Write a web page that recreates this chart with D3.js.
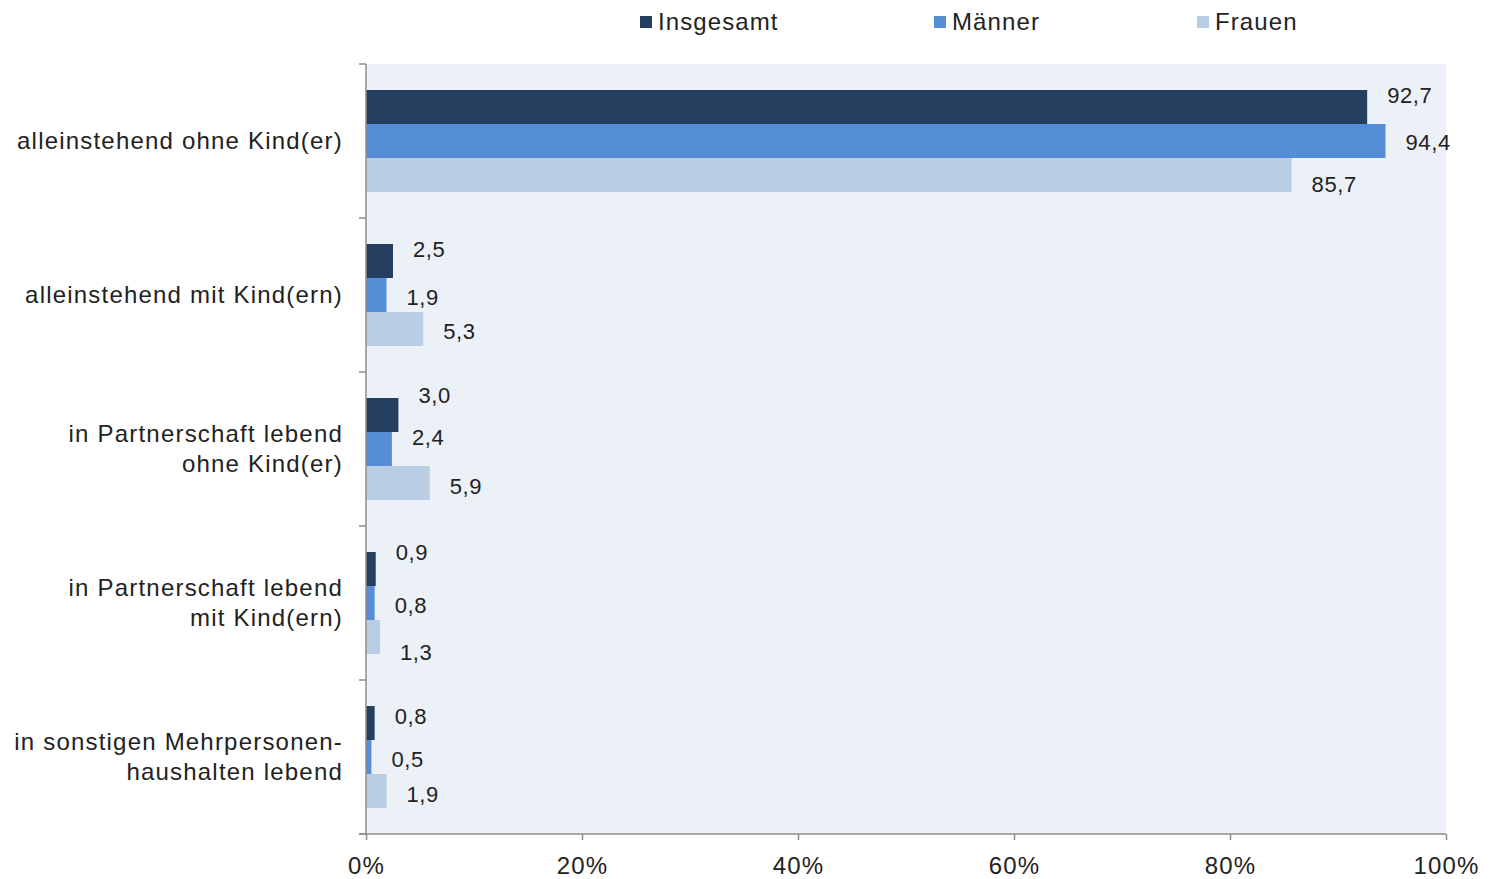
<!DOCTYPE html>
<html><head><meta charset="utf-8">
<script src="https://cdn.jsdelivr.net/npm/d3@7"></script>
<style>body{margin:0;background:#fff;} svg{display:block;font-family:"Liberation Sans",Arial,sans-serif;}</style>
</head><body><svg id="c" width="1489" height="879"></svg>
<script>
const categories = [
  ["alleinstehend ohne Kind(er)"],
  ["alleinstehend mit Kind(ern)"],
  ["in Partnerschaft lebend", "ohne Kind(er)"],
  ["in Partnerschaft lebend", "mit Kind(ern)"],
  ["in sonstigen Mehrpersonen-", "haushalten lebend"]
];
const seriesNames = ["Insgesamt", "Männer", "Frauen"];
const insgesamt = [92.7, 2.5, 3.0, 0.9, 0.8];
const maenner   = [94.4, 1.9, 2.4, 0.8, 0.5];
const frauen    = [85.7, 5.3, 5.9, 1.3, 1.9];
const xTicks = [0, 20, 40, 60, 80, 100];
const colors = ["#243F60", "#558ED5", "#B9CDE5"];
// label vertical nudges (layout only), per category, per series
const labelDy = [[-12, 1, 9], [-12, 2, 2], [-20, -12, 3], [-17, 2, 15], [-7, 2, 3]];

const series = [insgesamt, maenner, frauen];
const svg = d3.select("#c");
const m = {left: 366, right: 1446, top: 64, bottom: 834};

const x = d3.scaleLinear().domain([0, 100]).range([m.left, m.right]);
const y = d3.scaleBand().domain(d3.range(categories.length)).range([m.top, m.bottom]).paddingInner(0).paddingOuter(0);
const inner = d3.scaleBand().domain(d3.range(3)).range([0, y.bandwidth()]).paddingInner(0).paddingOuter(0.765);

svg.append("rect").attr("x", m.left).attr("y", m.top).attr("width", m.right - m.left).attr("height", m.bottom - m.top).attr("fill", "#ECF0F7");

categories.forEach((c, i) => {
  series.forEach((s, j) => {
    const y0 = y(i) + inner(j);
    svg.append("rect").attr("x", x(0)).attr("y", y0).attr("width", x(s[i]) - x(0)).attr("height", inner.bandwidth()).attr("fill", colors[j]);
    svg.append("text").attr("x", x(s[i]) + 20).attr("y", y0 + inner.bandwidth() / 2 + labelDy[i][j])
      .attr("dy", "0.35em").attr("font-size", 22).attr("letter-spacing", 0.6).attr("fill", "#222").text(d3.format(".1f")(s[i]).replace(".", ","));
  });
});

// y axis
const yAxis = svg.append("g");
yAxis.append("line").attr("x1", m.left).attr("x2", m.left).attr("y1", m.top).attr("y2", m.bottom).attr("stroke", "#8c8c8c").attr("stroke-width", 1.5);
d3.range(categories.length + 1).forEach(k => {
  const yy = k < categories.length ? y(k) : m.bottom;
  yAxis.append("line").attr("x1", m.left - 7).attr("x2", m.left).attr("y1", yy).attr("y2", yy).attr("stroke", "#8c8c8c").attr("stroke-width", 1.5);
});
categories.forEach((c, i) => {
  const cy = y(i) + y.bandwidth() / 2;
  const lh = 30;
  const t = svg.append("text").attr("text-anchor", "end").attr("font-size", 24).attr("letter-spacing", 1.2).attr("fill", "#222");
  c.forEach((line, k) => {
    t.append("tspan").attr("x", 343).attr("y", cy + (k - (c.length - 1) / 2) * lh).attr("dy", "0.35em").text(line);
  });
});

// x axis
const xAxis = svg.append("g").attr("transform", `translate(0,${m.bottom})`)
  .call(d3.axisBottom(x).tickValues(xTicks).tickSize(6).tickPadding(17).tickFormat(d => d + "%"));
xAxis.select(".domain").attr("stroke", "#8c8c8c").attr("stroke-width", 1.5).attr("d", `M${m.left - 7},0H${m.right}`);
xAxis.selectAll(".tick line").attr("stroke", "#8c8c8c").attr("stroke-width", 1.5);
xAxis.selectAll(".tick text").attr("font-size", 24).attr("letter-spacing", 1.2).attr("fill", "#222").attr("font-family", "Liberation Sans, Arial, sans-serif");

// legend
const legX = [640, 934, 1197];
seriesNames.forEach((n, j) => {
  svg.append("rect").attr("x", legX[j]).attr("y", 16).attr("width", 12).attr("height", 12).attr("fill", colors[j]);
  svg.append("text").attr("x", legX[j] + 18).attr("y", 22).attr("dy", "0.35em").attr("font-size", 24).attr("letter-spacing", 1.1).attr("fill", "#222").text(n);
});
</script></body></html>
